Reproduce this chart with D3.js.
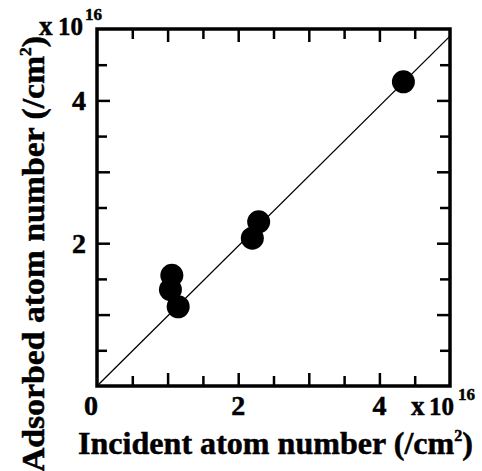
<!DOCTYPE html>
<html lang="en">
<head>
  <meta charset="UTF-8">
  <title>Adsorbed vs incident atom number</title>
  <style>
    body { margin: 0; background: #fff; }
    svg { display: block; }
    text { font-family: 'Liberation Serif', 'Times New Roman', serif; font-weight: bold; fill: #000; stroke: #000; stroke-width: 0.5; }
  </style>
</head>
<body>
  <svg id="chart" width="482" height="471"></svg>
  <script src="https://d3js.org/d3.v7.min.js"></script>
  <script>
    // values in units of 1e16 /cm^2
    const incident = [1.06, 1.04, 1.15, 2.20, 2.29, 4.34];
    const adsorbed = [1.55, 1.35, 1.11, 2.07, 2.30, 4.26];
    const fitLine = [[0, 0], [5, 4.9]];
    const xTickLabels = [0, 2, 4];
    const yTickLabels = [2, 4];

    const svg = d3.select('#chart');
    const margin = { left: 97, top: 29, right: 32, bottom: 85 };
    const W = 482 - margin.left - margin.right;
    const H = 471 - margin.top - margin.bottom;
    const g = svg.append('g').attr('transform', `translate(${margin.left},${margin.top})`);

    const x = d3.scaleLinear().domain([0, 5]).range([0, W]);
    const y = d3.scaleLinear().domain([0, 5]).range([H, 0]);

    const minor = d3.range(0.5, 5, 0.5);
    const tickLen = d => (Number.isInteger(d) ? 13 : 10);

    // inward ticks on all four sides
    const axes = [
      { ax: d3.axisBottom(x), tf: `translate(0,${H})`, dir: -1 },
      { ax: d3.axisTop(x), tf: 'translate(0,0)', dir: 1 },
      { ax: d3.axisLeft(y), tf: 'translate(0,0)', dir: 1 },
      { ax: d3.axisRight(y), tf: `translate(${W},0)`, dir: -1 }
    ];
    axes.forEach(a => {
      const sel = g.append('g').attr('transform', a.tf)
        .call(a.ax.tickValues(minor).tickFormat('').tickSizeOuter(0).tickSize(0));
      sel.select('.domain').remove();
      sel.selectAll('.tick line')
        .attr('stroke', '#000').attr('stroke-width', 2.5)
        .each(function(d) {
          const l = d3.select(this);
          if (a.ax.scale() === x) l.attr('y2', a.dir * tickLen(d));
          else l.attr('x2', a.dir * tickLen(d));
        });
    });

    // frame
    g.append('rect').attr('x', 0).attr('y', 0).attr('width', W).attr('height', H)
      .attr('fill', 'none').attr('stroke', '#000').attr('stroke-width', 3.5);

    // tick labels
    g.selectAll('.xl').data(xTickLabels).enter().append('text')
      .attr('x', d => x(d) - (d === 0 ? 6 : 0)).attr('y', H + 29)
      .attr('text-anchor', 'middle').attr('font-size', 28).text(d => d);
    g.selectAll('.yl').data(yTickLabels).enter().append('text')
      .attr('x', -11).attr('y', d => y(d) + 9.5)
      .attr('text-anchor', 'end').attr('font-size', 28).text(d => d);

    // fit line
    g.append('line')
      .attr('x1', x(fitLine[0][0])).attr('y1', y(fitLine[0][1]))
      .attr('x2', x(fitLine[1][0])).attr('y2', y(fitLine[1][1]))
      .attr('stroke', '#000').attr('stroke-width', 1.3);

    // points
    g.selectAll('circle').data(incident).enter().append('circle')
      .attr('cx', d => x(d)).attr('cy', (d, i) => y(adsorbed[i]))
      .attr('r', 11.5).attr('fill', '#000');

    // exponent labels: x-start of "x", "10", "16" and baseline
    const expo = (xx, x10, x16, base) => {
      svg.append('text').attr('x', xx).attr('y', base).attr('font-size', 27).text('x');
      svg.append('text').attr('x', x10).attr('y', base).attr('font-size', 26)
        .attr('textLength', 25).attr('lengthAdjust', 'spacingAndGlyphs').text('10');
      svg.append('text').attr('x', x16).attr('y', base - 15).attr('font-size', 17)
        .attr('textLength', 17).attr('lengthAdjust', 'spacingAndGlyphs').text('16');
    };
    expo(39, 58, 85, 35);
    expo(411, 429, 458, 415);

    // axis titles
    const xt = svg.append('text').attr('x', 78).attr('y', 454)
      .attr('font-size', 32).attr('textLength', 395).attr('lengthAdjust', 'spacingAndGlyphs');
    xt.append('tspan').text('Incident atom number (/cm');
    xt.append('tspan').attr('dy', -13).attr('font-size', 16).text('2');
    xt.append('tspan').attr('dy', 13).text(')');

    const yt = svg.append('text')
      .attr('transform', 'translate(44,472) rotate(-90)')
      .attr('font-size', 31).attr('textLength', 436).attr('lengthAdjust', 'spacingAndGlyphs');
    yt.append('tspan').text('Adsorbed atom number (/cm');
    yt.append('tspan').attr('dy', -13).attr('font-size', 16).text('2');
    yt.append('tspan').attr('dy', 13).text(')');
  </script>
</body>
</html>
